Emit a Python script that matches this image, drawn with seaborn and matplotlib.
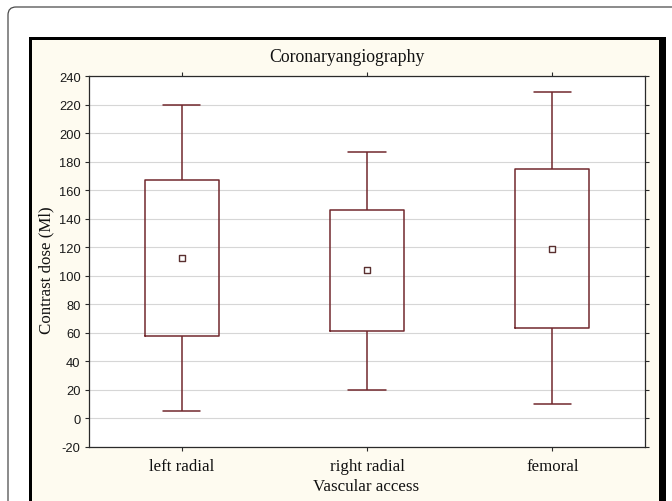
import numpy as np
import pandas as pd
import seaborn as sns
import matplotlib
matplotlib.use("Agg")
import matplotlib.pyplot as plt
from matplotlib.patches import FancyBboxPatch, Rectangle

# Contrast dose by vascular access: lower whisker, box bottom, mean, box top, upper whisker
categories = ["left radial", "right radial", "femoral"]
whisker_low = [5.5, 20.0, 10.0]
box_low = [58.0, 61.0, 63.5]
means = [112.5, 104.0, 119.0]
box_high = [167.0, 146.0, 175.0]
whisker_high = [220.0, 186.5, 228.5]
y_ticks = list(range(-20, 241, 20))

title = "Coronaryangiography"
x_label = "Vascular access"
y_label = "Contrast dose (Ml)"

# Five-number table per group; with five points the 25/50/75 percentiles are the
# box edges and centre, and whis=(0, 100) puts whiskers at the extremes.
rows = []
for i, cat in enumerate(categories):
    for v in (whisker_low[i], box_low[i], means[i], box_high[i], whisker_high[i]):
        rows.append({"access": cat, "dose": v})
summary = pd.DataFrame(rows)
mean_df = pd.DataFrame({"access": categories, "dose": means})

sns.set_theme(style="white")
serif = ["Liberation Serif", "DejaVu Serif"]
sans = ["Liberation Sans", "DejaVu Sans"]

W, H = 6.72, 5.02
fig = plt.figure(figsize=(W, H), dpi=100)
fig.patch.set_facecolor("white")

px = 1 / 100.0
# outer rounded frame
fig.add_artist(FancyBboxPatch((8 * px, -0.5), 7.0, H - 8 * px + 0.5,
                              boxstyle="round,pad=0,rounding_size=0.08",
                              transform=fig.dpi_scale_trans, facecolor="white",
                              edgecolor="#4a4a4a", linewidth=0.9, zorder=-5))
# black panel border and cream panel
fig.add_artist(Rectangle((29 * px, -0.5), (666 - 29) * px, H - 38 * px + 0.5,
                         transform=fig.dpi_scale_trans, facecolor="black",
                         edgecolor="none", zorder=-4))
fig.add_artist(Rectangle((32 * px, -0.5), (659 - 32) * px, H - 41 * px + 0.5,
                         transform=fig.dpi_scale_trans, facecolor="#fefbf0",
                         edgecolor="none", zorder=-3))

ax_l, ax_r, ax_t, ax_b = 89, 645, 77, 448
ax = fig.add_axes([ax_l / 672, 1 - ax_b / 502, (ax_r - ax_l) / 672, (ax_b - ax_t) / 502])
ax.set_facecolor("white")

edge = "#72282d"
sns.boxplot(data=summary, x="access", y="dose", order=categories, whis=(0, 100),
            width=0.4, fill=False, color=edge, linewidth=1.1, ax=ax,
            medianprops={"visible": False},
            boxprops={"color": edge}, whiskerprops={"color": edge},
            capprops={"color": edge}, showfliers=False)
sns.stripplot(data=mean_df, x="access", y="dose", order=categories, jitter=False,
              marker="s", size=4.2, color="white", edgecolor="#5a3030",
              linewidth=1.0, ax=ax, zorder=5)

ax.set_xlim(-0.5, 2.5)
ax.set_ylim(-20, 240)
ax.set_yticks(y_ticks)
ax.set_yticklabels([str(t) for t in y_ticks], family=sans, fontsize=9.3, color="#1a1a1a")
ax.set_xticklabels(categories, family=serif, fontsize=12.2, color="#111111")
ax.yaxis.grid(True, color="#d6d6d6", linewidth=0.8)
ax.xaxis.grid(False)
ax.set_axisbelow(True)
ax.set_xlabel("")
ax.set_ylabel("")
for s in ax.spines.values():
    s.set_visible(True)
    s.set_color("#2a2a2a")
    s.set_linewidth(0.9)
ax.tick_params(axis="both", which="both", direction="out", length=3, width=0.8,
               color="#2a2a2a", top=True, right=True, bottom=True, left=True)
ax.tick_params(axis="y", pad=3)
ax.tick_params(axis="x", pad=5)

fig.text(347 / 672, 1 - 57 / 502, title, family=serif, fontsize=12.8,
         ha="center", va="center", color="#111111")
fig.text(366 / 672, 1 - 487 / 502, x_label, family=serif, fontsize=12.2,
         ha="center", va="center", color="#111111")
fig.text(46 / 672, 1 - 270 / 502, y_label, family=serif, fontsize=12.2,
         ha="center", va="center", rotation=90, color="#111111")

fig.savefig("out.png", dpi=100)
